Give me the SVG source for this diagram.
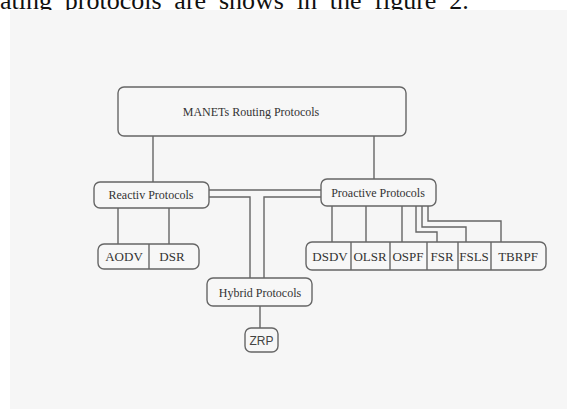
<svg xmlns="http://www.w3.org/2000/svg" width="567" height="409" viewBox="0 0 567 409">
<style>
.box{fill:#f7f7f7;stroke:#666;stroke-width:1.4}
.ln{fill:none;stroke:#666;stroke-width:1.4}
.t{font-family:"Liberation Serif","Times New Roman",serif;font-size:12px;fill:#333;text-anchor:middle}
.tb{font-family:"Liberation Serif","Times New Roman",serif;font-size:13px;fill:#333;text-anchor:middle}
</style>
<rect x="0" y="0" width="567" height="409" fill="#fff"/>
<text x="0" y="8.5" font-family="'Liberation Serif','Times New Roman',serif" font-size="26" word-spacing="6.3" fill="#111">ating protocols are shows in the figure 2.</text>
<rect x="10" y="10" width="557" height="399" fill="#f6f6f6"/>
<g id="connectors">
<line class="ln" x1="153" y1="136" x2="153" y2="182"/>
<line class="ln" x1="374" y1="136" x2="374" y2="179"/>
<line class="ln" x1="118" y1="208" x2="118" y2="244"/>
<line class="ln" x1="169" y1="208" x2="169" y2="244"/>
<line class="ln" x1="209" y1="190" x2="321" y2="190"/>
<polyline class="ln" points="209,197 250,197 250,278"/>
<polyline class="ln" points="321,197 264,197 264,278"/>
<line class="ln" x1="260" y1="306" x2="260" y2="328"/>
<line class="ln" x1="332" y1="206" x2="332" y2="242"/>
<line class="ln" x1="366" y1="206" x2="366" y2="242"/>
<line class="ln" x1="402" y1="206" x2="402" y2="242"/>
<polyline class="ln" points="416,206 416,232 437,232 437,242"/>
<polyline class="ln" points="422,206 422,227 466,227 466,242"/>
<polyline class="ln" points="428,206 428,221 501,221 501,242"/>
</g>
<g id="manet">
<rect class="box" x="118" y="87" width="288" height="49" rx="6"/>
<text class="t" x="251" y="116">MANETs Routing Protocols</text>
</g>
<g id="reactive">
<rect class="box" x="94" y="182" width="115" height="26" rx="6"/>
<text class="t" x="151" y="199">Reactiv Protocols</text>
</g>
<g id="proactive">
<rect class="box" x="321" y="179" width="115" height="27" rx="6"/>
<text class="t" x="378" y="197">Proactive Protocols</text>
</g>
<g id="reactive-list">
<rect class="box" x="98" y="244" width="101" height="25" rx="6"/>
<line class="ln" x1="149" y1="244" x2="149" y2="269"/>
<text class="tb" x="124" y="261">AODV</text>
<text class="tb" x="172" y="261">DSR</text>
</g>
<g id="proactive-list">
<rect class="box" x="306" y="242" width="240" height="28" rx="6"/>
<line class="ln" x1="351" y1="242" x2="351" y2="270"/>
<line class="ln" x1="390" y1="242" x2="390" y2="270"/>
<line class="ln" x1="427" y1="242" x2="427" y2="270"/>
<line class="ln" x1="458" y1="242" x2="458" y2="270"/>
<line class="ln" x1="491" y1="242" x2="491" y2="270"/>
<text class="tb" x="330" y="261">DSDV</text>
<text class="tb" x="370" y="261">OLSR</text>
<text class="tb" x="408" y="261">OSPF</text>
<text class="tb" x="442" y="261">FSR</text>
<text class="tb" x="474" y="261">FSLS</text>
<text class="tb" x="518" y="261">TBRPF</text>
</g>
<g id="hybrid">
<rect class="box" x="207" y="278" width="105" height="28" rx="6"/>
<text class="t" x="260" y="297">Hybrid Protocols</text>
</g>
<g id="zrp">
<rect class="box" x="245" y="328" width="33" height="24" rx="6"/>
<text x="261.5" y="345" font-family="'Liberation Sans',Arial,sans-serif" font-size="12" fill="#444" text-anchor="middle">ZRP</text>
</g>
</svg>
